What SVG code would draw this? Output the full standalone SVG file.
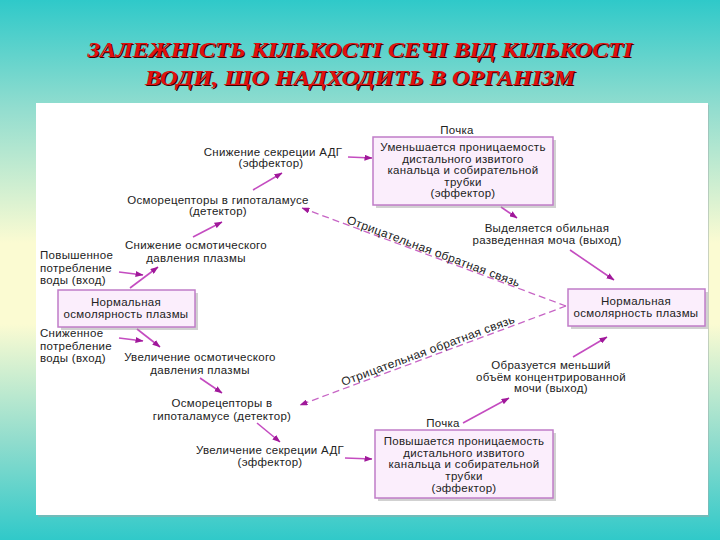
<svg xmlns="http://www.w3.org/2000/svg" width="720" height="540" viewBox="0 0 720 540">
<defs>
<linearGradient id="bg" x1="0" y1="0" x2="0" y2="1">
<stop offset="0" stop-color="#2fc9c9"/>
<stop offset="0.2" stop-color="#92ddcf"/>
<stop offset="0.45" stop-color="#fbfbd2"/>
<stop offset="0.6" stop-color="#fbfbd2"/>
<stop offset="0.82" stop-color="#8fdccd"/>
<stop offset="1" stop-color="#30c9c9"/>
</linearGradient>
<marker id="ah" viewBox="0 0 8 6" refX="7.5" refY="3" markerWidth="8" markerHeight="6" markerUnits="userSpaceOnUse" orient="auto">
<path d="M0,0 L8,3 L0,6 z" fill="#a0189a"/>
</marker>
<style>
.t{font-family:"Liberation Sans",Arial,sans-serif;font-size:11.5px;fill:#222;letter-spacing:0.3px;}
.m{text-anchor:middle;}
.box{fill:#fbeefc;stroke:#c07cc8;stroke-width:1.5;}
.sh{fill:#9a9a9a;opacity:0.45;}
.ar{stroke:#c44cc0;stroke-width:1.6;fill:none;marker-end:url(#ah);}
.da{stroke:#c765c5;stroke-width:1.3;fill:none;stroke-dasharray:7 4;marker-end:url(#ah);}
.ttl{font-family:"Liberation Serif","Times New Roman",serif;font-size:22px;font-weight:bold;font-style:italic;text-anchor:middle;}
</style>
</defs>
<rect x="0" y="0" width="720" height="540" fill="url(#bg)"/>
<rect x="38" y="105" width="671" height="412" fill="#9aa" opacity="0.5"/>
<rect x="36" y="103" width="672" height="412" fill="#ffffff"/>

<g id="title">
<text class="ttl" x="361.2" y="58.2" fill="#3a0000" textLength="545" lengthAdjust="spacingAndGlyphs">ЗАЛЕЖНІСТЬ КІЛЬКОСТІ СЕЧІ ВІД КІЛЬКОСТІ</text>
<text class="ttl" x="360" y="57" fill="#e01010" textLength="545" lengthAdjust="spacingAndGlyphs">ЗАЛЕЖНІСТЬ КІЛЬКОСТІ СЕЧІ ВІД КІЛЬКОСТІ</text>
<text class="ttl" x="361.2" y="86.2" fill="#3a0000" textLength="430" lengthAdjust="spacingAndGlyphs">ВОДИ, ЩО НАДХОДИТЬ В ОРГАНІЗМ</text>
<text class="ttl" x="360" y="85" fill="#e01010" textLength="430" lengthAdjust="spacingAndGlyphs">ВОДИ, ЩО НАДХОДИТЬ В ОРГАНІЗМ</text>
</g>

<g id="connectors">
<line class="ar" x1="348" y1="157" x2="372" y2="158"/>
<line class="ar" x1="253" y1="190" x2="282" y2="173"/>
<line class="ar" x1="193" y1="237" x2="222" y2="222"/>
<line class="ar" x1="119" y1="272" x2="143" y2="275"/>
<line class="ar" x1="130" y1="288" x2="158" y2="267"/>
<line class="ar" x1="119" y1="338" x2="143" y2="341"/>
<line class="ar" x1="137" y1="329" x2="160" y2="347"/>
<line class="ar" x1="200" y1="378" x2="222" y2="393"/>
<line class="ar" x1="257" y1="423" x2="280" y2="442"/>
<line class="ar" x1="345" y1="458" x2="372" y2="459"/>
<line class="ar" x1="463" y1="423" x2="509" y2="398"/>
<line class="ar" x1="573" y1="357" x2="607" y2="337"/>
<line class="ar" x1="501" y1="207" x2="517" y2="218"/>
<line class="ar" x1="570" y1="250" x2="614" y2="280"/>
<line class="da" x1="566" y1="306" x2="302" y2="208"/>
<line class="da" x1="566" y1="306" x2="300" y2="405"/>
<text class="t" x="346" y="223" transform="rotate(20.4 346 223)" textLength="184" lengthAdjust="spacingAndGlyphs">Отрицательная обратная связь</text>
<text class="t" x="343" y="386" transform="rotate(-20.2 343 386)" textLength="184" lengthAdjust="spacingAndGlyphs">Отрицательная обратная связь</text>
</g>

<g id="kidney-top">
<text class="t m" x="457" y="134">Почка</text>
<rect class="sh" x="376" y="140" width="180" height="68"/>
<rect class="box" x="373" y="137" width="180" height="68"/>
<text class="t m" x="463" y="151">Уменьшается проницаемость</text>
<text class="t m" x="463" y="162.5">дистального извитого</text>
<text class="t m" x="463" y="174">канальца и собирательной</text>
<text class="t m" x="463" y="185.5">трубки</text>
<text class="t m" x="463" y="197">(эффектор)</text>
</g>

<g id="adh-decrease">
<text class="t m" x="273" y="156">Снижение секреции АДГ</text>
<text class="t m" x="271" y="167">(эффектор)</text>
</g>

<g id="osmo-top">
<text class="t m" x="218" y="204">Осморецепторы в гипоталамусе</text>
<text class="t m" x="218" y="215">(детектор)</text>
</g>

<g id="osm-decrease">
<text class="t m" x="196" y="249">Снижение осмотического</text>
<text class="t m" x="196" y="262">давления плазмы</text>
</g>

<g id="water-up">
<text class="t" x="40" y="259">Повышенное</text>
<text class="t" x="40" y="272">потребление</text>
<text class="t" x="40" y="284">воды (вход)</text>
</g>

<g id="norm-left">
<rect class="sh" x="61" y="293" width="137" height="37"/>
<rect class="box" x="58" y="290" width="137" height="37"/>
<text class="t m" x="126" y="306">Нормальная</text>
<text class="t m" x="126" y="318">осмолярность плазмы</text>
</g>

<g id="water-down">
<text class="t" x="40" y="337">Сниженное</text>
<text class="t" x="40" y="350">потребление</text>
<text class="t" x="40" y="362">воды (вход)</text>
</g>

<g id="osm-increase">
<text class="t m" x="200" y="361">Увеличение осмотического</text>
<text class="t m" x="200" y="374">давления плазмы</text>
</g>

<g id="osmo-bottom">
<text class="t m" x="222" y="407">Осморецепторы в</text>
<text class="t m" x="222" y="420">гипоталамусе (детектор)</text>
</g>

<g id="adh-increase">
<text class="t m" x="270" y="454">Увеличение секреции АДГ</text>
<text class="t m" x="270" y="466">(эффектор)</text>
</g>

<g id="kidney-bottom">
<text class="t m" x="443" y="427">Почка</text>
<rect class="sh" x="378" y="433" width="178" height="68"/>
<rect class="box" x="375" y="430" width="178" height="68"/>
<text class="t m" x="464" y="445">Повышается проницаемость</text>
<text class="t m" x="464" y="456.5">дистального извитого</text>
<text class="t m" x="464" y="468">канальца и собирательной</text>
<text class="t m" x="464" y="480">трубки</text>
<text class="t m" x="464" y="492">(эффектор)</text>
</g>

<g id="urine-dilute">
<text class="t m" x="547" y="232">Выделяется обильная</text>
<text class="t m" x="547" y="244">разведенная моча (выход)</text>
</g>

<g id="norm-right">
<rect class="sh" x="571" y="292" width="137" height="37"/>
<rect class="box" x="568" y="289" width="137" height="37"/>
<text class="t m" x="636" y="305">Нормальная</text>
<text class="t m" x="636" y="317">осмолярность плазмы</text>
</g>

<g id="urine-conc">
<text class="t m" x="551" y="369">Образуется меньший</text>
<text class="t m" x="551" y="381">объём концентрированной</text>
<text class="t m" x="551" y="392">мочи (выход)</text>
</g>
</svg>
